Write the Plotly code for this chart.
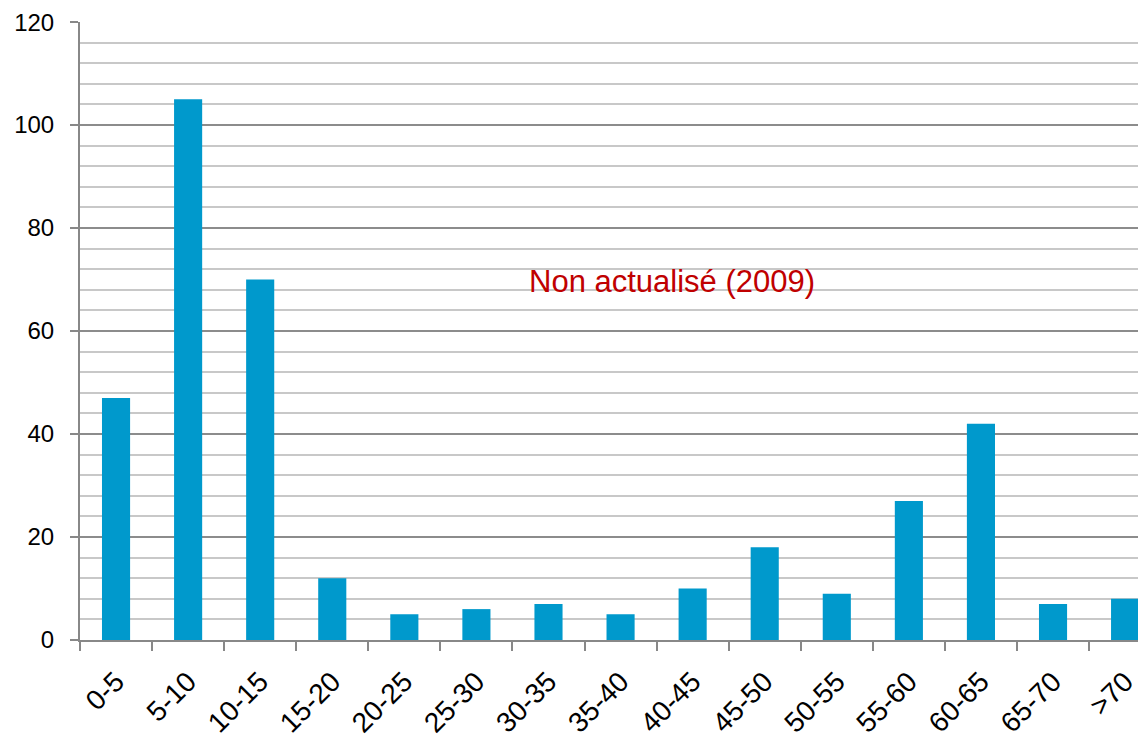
import plotly.graph_objects as go

categories = ["0-5", "5-10", "10-15", "15-20", "20-25", "25-30", "30-35", "35-40",
              "40-45", "45-50", "50-55", "55-60", "60-65", "65-70", ">70"]
values = [47, 105, 70, 12, 5, 6, 7, 5, 10, 18, 9, 27, 42, 7, 8]
y_ticks = [0, 20, 40, 60, 80, 100, 120]
note = "Non actualisé (2009)"

fig = go.Figure(go.Bar(x=categories, y=values, marker=dict(color="#0099CC", line=dict(width=0)),
                       width=0.39))

fig.update_layout(
    width=1138, height=739,
    margin=dict(l=72, r=0, t=12, b=107),
    plot_bgcolor="white", paper_bgcolor="white",
    font=dict(family="Liberation Sans, Arial, sans-serif", size=24, color="black"),
    showlegend=False,
)
fig.update_xaxes(
    type="category", range=[-0.5, 14.29],
    showline=True, linecolor="#888888", linewidth=2,
    ticks="outside", tickson="boundaries", ticklen=9, tickwidth=2, tickcolor="#888888",
    tickangle=-45, showgrid=False, tickfont=dict(size=28), ticklabelstandoff=12,
)
fig.update_yaxes(
    range=[0, 120.02], tickmode="array", tickvals=y_ticks,
    showline=True, linecolor="#888888", linewidth=2,
    ticks="outside", ticklen=8, tickwidth=2, tickcolor="#888888",
    showgrid=True, gridcolor="#8c8c8c", gridwidth=1.5,
    minor=dict(dtick=4, showgrid=True, gridcolor="#c8c8c8", gridwidth=1.5),
    zeroline=False, tickfont=dict(size=24), ticklabeloverflow="allow", ticklabelstandoff=11,
)
fig.add_annotation(x=7.71, y=69.6, xref="x", yref="y", text=note, showarrow=False,
                   font=dict(color="#C00000", size=31, family="Liberation Sans, Arial, sans-serif"))

fig.write_html("out.html")
